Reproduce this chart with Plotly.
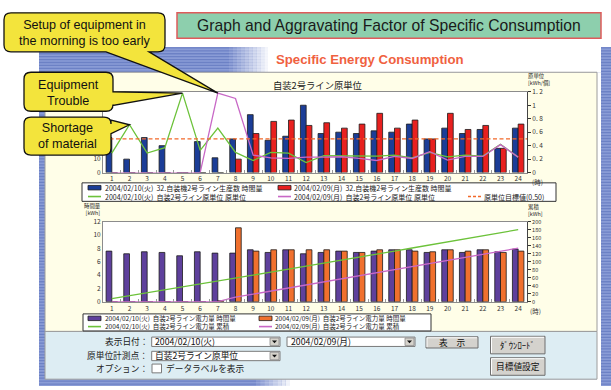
import plotly.graph_objects as go

W, H = 611, 390
JP = "Noto Sans CJK JP"
LAT = "Liberation Sans"

# ---------------- data ----------------
hours = list(range(1, 25))
hour_labels = [str(h) for h in hours]

# 32.自装機2号ライン生産数 時間量 (個)
prod_0210 = [26, 10, 26, 20, 0, 23, 11, 25, 43, 24, 27, 50, 29, 30, 29, 31, 30, 36, 25, 33, 29, 32, 18, 33]
prod_0209 = [0, 0, 0, 0, 0, 0, 0, 10, 29, 38, 39, 35, 37, 33, 36, 44, 33, 39, 25, 44, 32, 35, 18, 36]
prod_range = [0, 60]
prod_ticks = [0, 10]

# 自装2号ライン原単位 (kWh/個)
unit_0210 = [0.29, 0.71, 0.29, 0.37, 1.18, 0.33, 0.66, 0.30, 0.18, 0.30, 0.29, 0.15,
             0.25, 0.25, 0.25, 0.245, 0.26, 0.22, 0.30, 0.235, 0.26, 0.245, 0.42, 0.23]
unit_0209 = [0, 0, 0, 0, 0, 0, 1.18, 1.10, 0.26, 0.22, 0.21, 0.23,
             0.23, 0.235, 0.21, 0.18, 0.24, 0.21, 0.31, 0.185, 0.24, 0.24, 0.415, 0.23]
unit_target = 0.50
unit_ticks = [0, 0.2, 0.4, 0.6, 0.8, 1.0, 1.2]
unit_tick_text = ["0", "0. 2", "0. 4", "0. 6", "0. 8", "1", "1. 2"]

# 自装2号ライン電力量 時間量 (kWh)
energy_0210 = [7.6, 7.2, 7.5, 7.4, 6.9, 7.5, 7.3, 7.3, 7.8, 7.4, 7.8, 7.2,
               7.4, 7.6, 7.4, 7.6, 7.8, 7.8, 7.4, 7.8, 7.4, 7.8, 7.5, 7.9]
energy_0209 = [0, 0, 0, 0, 0, 0, 0.15, 11.1, 7.6, 7.8, 7.8, 7.8,
               7.8, 7.6, 7.4, 7.8, 7.8, 7.6, 7.5, 7.8, 7.6, 7.8, 7.4, 7.6]
energy_ticks = [0, 2, 4, 6, 8, 10, 12]

# 自装2号ライン電力量 累積 (kWh)
cum_0210 = [7.6, 14.8, 22.3, 29.7, 36.6, 44.1, 51.4, 58.7, 66.5, 73.9, 81.7, 88.9,
            96.3, 103.9, 111.3, 118.9, 126.7, 134.5, 141.9, 149.7, 157.1, 164.9, 172.4, 180.3]
cum_0209 = [0, 0, 0, 0, 0, 0, 0.2, 11.3, 18.9, 26.7, 34.5, 42.3,
            50.1, 57.7, 65.1, 72.9, 80.7, 88.3, 95.8, 103.6, 111.2, 119.0, 126.4, 134.0]
cum_ticks = list(range(0, 201, 20))

name_p10 = "2004/02/10(火)  32.自装機2号ライン生産数 時間量"
name_p09 = "2004/02/09(月)  32.自装機2号ライン生産数 時間量"
name_u10 = "2004/02/10(火)  自装2号ライン原単位 原単位"
name_u09 = "2004/02/09(月)  自装2号ライン原単位 原単位"
name_tg = f"原単位目標値({unit_target:.2f})"
name_e10 = "2004/02/10(火)  自装2号ライン電力量 時間量"
name_e09 = "2004/02/09(月)  自装2号ライン電力量 時間量"
name_c10 = "2004/02/10(火)  自装2号ライン電力量 累積"
name_c09 = "2004/02/09(月)  自装2号ライン電力量 累積"

C_BLUE, C_RED = "#1B3D97", "#E8201F"
C_PURPLE, C_ORANGE = "#5E409C", "#F0702E"
C_GREEN, C_PINK = "#6CC23A", "#C868C6"
C_TARGET = "#F2692A"
EDGE = "#1c1c1c"

# plot rectangles in pixels
PX0, PX1 = 103, 527
TOP_Y0, TOP_Y1 = 88, 171
BOT_Y0, BOT_Y1 = 221.5, 303.5
XR = [0.5, 24.5]
TOP_R = [0, 1.2]


def px(x):
    return x / W


def py(y):
    return 1 - y / H


shapes = []
annotations = []


def rect(x0, y0, x1, y1, fill=None, line=None, lw=1.0, layer="below", opacity=1.0):
    shapes.append(dict(type="rect", xref="paper", yref="paper",
                       x0=px(x0), x1=px(x1), y0=py(y1), y1=py(y0),
                       fillcolor=fill or "rgba(0,0,0,0)",
                       line=dict(color=line or "rgba(0,0,0,0)", width=lw if line else 0),
                       layer=layer, opacity=opacity))


def seg(x0, y0, x1, y1, color, lw=1.0, dash=None, layer="below"):
    shapes.append(dict(type="line", xref="paper", yref="paper",
                       x0=px(x0), x1=px(x1), y0=py(y0), y1=py(y1),
                       line=dict(color=color, width=lw, dash=dash), layer=layer))


def text(x, y, s, size, color="#222", family=JP, xanchor="center", yanchor="middle", align="center"):
    annotations.append(dict(xref="paper", yref="paper", x=px(x), y=py(y), text=s,
                            showarrow=False, xanchor=xanchor, yanchor=yanchor, align=align,
                            font=dict(size=size, color=color, family=family), borderpad=0))


def P(x, y):
    return f"{px(x):.5f},{py(y):.5f}"


def callout(x0, y0, x1, y1, side, a, tip, b, r=7):
    d = f"M{P(x0 + r, y0)} L{P(x1 - r, y0)} Q{P(x1, y0)} {P(x1, y0 + r)}"
    if side == "right":
        d += f" L{P(x1, a)} L{P(*tip)} L{P(x1, b)}"
    d += f" L{P(x1, y1 - r)} Q{P(x1, y1)} {P(x1 - r, y1)}"
    if side == "bottom":
        d += f" L{P(a, y1)} L{P(*tip)} L{P(b, y1)}"
    d += f" L{P(x0 + r, y1)} Q{P(x0, y1)} {P(x0, y1 - r)} L{P(x0, y0 + r)} Q{P(x0, y0)} {P(x0 + r, y0)} Z"
    shapes.append(dict(type="path", xref="paper", yref="paper", path=d,
                       fillcolor="#F3E43C", line=dict(color="#111", width=1.3), layer="above"))


def top_point(h, v):
    # pixel position of an hour/原単位 point on the upper chart
    x = PX0 + (h - XR[0]) / (XR[1] - XR[0]) * (PX1 - PX0)
    y = TOP_Y1 - (v - TOP_R[0]) / (TOP_R[1] - TOP_R[0]) * (TOP_Y1 - TOP_Y0)
    return (x, y)


# ---------------- page background ----------------
rect(39, 42, 611, 390, fill="#8A9CD6")
for yy in range(42, 390, 3):
    seg(39, yy + 1, 611, yy + 1, "#6C81C5", lw=1.3)
# white header strip with soft left shadow
rect(268, 42, 601, 68, fill="white")
for i in range(10):
    rect(229 + i * 3.9, 42, 229 + (i + 1) * 3.9, 68, fill="white", opacity=(i + 1) / 11)
rect(597, 68, 601, 390, fill="white")
rect(290, 383, 601, 390, fill="white")
for i in range(8):
    rect(256 + i * 4.25, 383, 256 + (i + 1) * 4.25, 390, fill="white", opacity=(i + 1) / 9)

# window body and control panel
rect(45, 68, 597, 334, fill="#FFFEE8", line="#9C9C9C", lw=1)
rect(45, 334, 597, 383, fill="#DDEDF3", line="#9C9C9C", lw=1)

# page title and window caption
rect(177, 7, 601, 33, fill="#8DCFAD", line="#DE5B5B", lw=1.5)
text(389, 20.5, "Graph and Aggravating Factor of Specific Consumption", 15.7, color="#1a1a1a", family=LAT)
text(369.5, 55, "<b>Specific Energy Consumption</b>", 13.2, color="#F0613F",
     family="Liberation Sans Narrow, Liberation Sans")

# chart titles / axis captions
text(317, 81.5, "自装2号ライン原単位", 9.3, color="#222")
text(527, 75.3, "原単位<br>[kWh/個]", 5.4, color="#222", xanchor="left", align="left")
text(102, 208.5, "時間量<br>[kWh]", 5.4, color="#222", xanchor="right", align="right")
text(527, 209.5, "累積<br>[kWh]", 5.4, color="#222", xanchor="left", align="left")
text(537, 180.8, "(時)", 6.5, color="#333")
text(535, 313, "(時)", 6.5, color="#333")


# ---------------- legends ----------------
def bar_swatch(x, y, color):
    rect(x, y - 2.3, x + 13, y + 2.3, fill=color, line=EDGE, lw=0.8)


def line_swatch(x, y, color, dash=None):
    seg(x, y, x + 13, y, color, lw=1.6, dash=dash)


def legend_column(x, y_mid, first, second, size):
    # two legend rows of one column, set as a single two-line text
    text(x, y_mid, f"{first}<br>{second}", size, xanchor="left", align="left")


LFS = 7.0
rect(82, 181.5, 556, 200.5, fill="white", line="#333", lw=1)
gap = 1.3 * LFS
r_mid = 191.0
r1, r2 = r_mid - gap / 2, r_mid + gap / 2
bar_swatch(88, r1, C_BLUE); line_swatch(88, r2, C_GREEN)
legend_column(104, r_mid, name_p10, name_u10, LFS)
bar_swatch(278, r1, C_RED); line_swatch(278, r2, C_PINK)
legend_column(292.5, r_mid, name_p09, name_u09, LFS)
line_swatch(468, r2, C_TARGET, dash="3px,2px")
text(483, r2, name_tg, LFS, xanchor="left")

LFS2 = 6.5
rect(83, 316, 431, 333.5, fill="white", line="#333", lw=1)
gap2 = 1.3 * LFS2
q_mid = 324.8
q1, q2 = q_mid - gap2 / 2, q_mid + gap2 / 2
bar_swatch(88, q1, C_PURPLE); line_swatch(88, q2, C_GREEN)
legend_column(104, q_mid, name_e10, name_c10, LFS2)
bar_swatch(259, q1, C_ORANGE); line_swatch(259, q2, C_PINK)
legend_column(273.5, q_mid, name_e09, name_c09, LFS2)


# ---------------- control panel ----------------
CFS = 8.7


def sunken(x0, y0, x1, y1):
    rect(x0, y0, x1, y1, fill="white", line="#7A7A7A", lw=1)


def dropdown(x0, y0, x1, y1, label):
    sunken(x0, y0, x1, y1)
    rect(x1 - 10, y0 + 1, x1 - 1, y1 - 1, fill="#D6D3CC", line="#8A8A8A", lw=0.8)
    cx, cy = x1 - 5.5, (y0 + y1) / 2
    shapes.append(dict(type="path", xref="paper", yref="paper",
                       path=f"M{P(cx - 2.5, cy - 1.2)} L{P(cx + 2.5, cy - 1.2)} L{P(cx, cy + 1.6)} Z",
                       fillcolor="#111", line=dict(width=0), layer="below"))
    text(x0 + 2.5, (y0 + y1) / 2, label, CFS, color="#111", xanchor="left")


def button(x0, y0, x1, y1, label):
    rect(x0, y0, x1, y1, fill="#D4D2CD", line="#6F6F6F", lw=1)
    seg(x0 + 1, y0 + 1, x1 - 1, y0 + 1, "white", lw=1)
    seg(x0 + 1, y0 + 1, x0 + 1, y1 - 1, "white", lw=1)
    text((x0 + x1) / 2, (y0 + y1) / 2, label, CFS, color="#111")


text(149, 344.5, "表示日付：", CFS, xanchor="right")
text(149, 359.2, "原単位計測点：", CFS, xanchor="right")
text(149, 372, "オプション：", CFS, xanchor="right")
dropdown(151.7, 339.8, 280, 349.4, "2004/02/10(火)")
dropdown(287, 339.8, 415, 349.4, "2004/02/09(月)")
dropdown(151.7, 354.4, 280, 364, "自装2号ライン原単位")
sunken(152, 367.5, 161.5, 376.5)
text(165, 372, "データラベルを表示", CFS, xanchor="left")
button(426, 339.5, 478, 351, "表　示")
button(490.5, 339, 545, 357, "ﾀﾞｳﾝﾛｰﾄﾞ")
button(490.5, 361, 545, 379, "目標値設定")

# ---------------- plot area backgrounds & target line ----------------
shapes.append(dict(type="rect", xref="x domain", yref="y domain", x0=0, x1=1, y0=0, y1=1,
                   fillcolor="white", line=dict(width=0), layer="below"))
shapes.append(dict(type="rect", xref="x2 domain", yref="y3 domain", x0=0, x1=1, y0=0, y1=1,
                   fillcolor="white", line=dict(width=0), layer="below"))
shapes.append(dict(type="line", xref="x domain", yref="y2", x0=0, x1=1,
                   y0=unit_target, y1=unit_target,
                   line=dict(color=C_TARGET, width=1.3, dash="4px,2.5px"), layer="above"))

# ---------------- callouts ----------------
i5 = hours.index(5)
i7 = hours.index(7)
i2 = hours.index(2)
callout(4, 7, 165, 47, "bottom", 149, top_point(7, unit_0209[i7]), 106)
text(85, 28, "Setup of equipment in<br>the morning is too early", 12.6, color="#111", family=LAT)
callout(24, 68, 113, 108, "right", 88, top_point(5, unit_0210[i5]), 102)
text(68.5, 88.8, "Equipment<br>Trouble", 12.6, color="#111", family=LAT)
callout(24, 114, 111, 153, "right", 117, top_point(2, unit_0210[i2]), 131)
text(67.5, 133.8, "Shortage<br>of material", 12.6, color="#111", family=LAT)

# ---------------- traces ----------------
fig = go.Figure()
bar_line = dict(color=EDGE, width=0.8)
fig.add_trace(go.Bar(x=hours, y=prod_0210, name=name_p10, xaxis="x", yaxis="y",
                     marker=dict(color=C_BLUE, line=bar_line)))
fig.add_trace(go.Bar(x=hours, y=prod_0209, name=name_p09, xaxis="x", yaxis="y",
                     marker=dict(color=C_RED, line=bar_line)))
fig.add_trace(go.Scatter(x=hours, y=unit_0210, name=name_u10, xaxis="x", yaxis="y2", mode="lines",
                         line=dict(color=C_GREEN, width=1.3), cliponaxis=False))
fig.add_trace(go.Scatter(x=hours, y=unit_0209, name=name_u09, xaxis="x", yaxis="y2", mode="lines",
                         line=dict(color=C_PINK, width=1.3), cliponaxis=False))
fig.add_trace(go.Bar(x=hours, y=energy_0210, name=name_e10, xaxis="x2", yaxis="y3",
                     marker=dict(color=C_PURPLE, line=bar_line)))
fig.add_trace(go.Bar(x=hours, y=energy_0209, name=name_e09, xaxis="x2", yaxis="y3",
                     marker=dict(color=C_ORANGE, line=bar_line)))
fig.add_trace(go.Scatter(x=hours, y=cum_0210, name=name_c10, xaxis="x2", yaxis="y4", mode="lines",
                         line=dict(color=C_GREEN, width=1.3), cliponaxis=False))
fig.add_trace(go.Scatter(x=hours, y=cum_0209, name=name_c09, xaxis="x2", yaxis="y4", mode="lines",
                         line=dict(color=C_PINK, width=1.3), cliponaxis=False))

TF = dict(size=6.5, color="#333", family=JP)
TF_SMALL = dict(size=5.5, color="#333", family=JP)
xdom = [PX0 / W, PX1 / W]
half_ticks = [h + 0.5 for h in hours[:-1]]


def xaxis_cfg(anchor):
    return dict(domain=xdom, anchor=anchor, range=XR, tickmode="array", tickvals=hours,
                ticktext=hour_labels, ticks="", tickfont=TF, showline=True, linecolor="#8c8c8c",
                linewidth=1, mirror=True, showgrid=False, zeroline=False, fixedrange=True,
                minor=dict(tickmode="array", tickvals=half_ticks, ticks="inside", ticklen=3,
                           tickcolor="#9a9a9a", showgrid=False))


def yleft_cfg(dom, rng, vals, anchor):
    return dict(domain=dom, anchor=anchor, range=rng, tickmode="array", tickvals=vals,
                ticks="", tickfont=TF, showline=True, linecolor="#8c8c8c", linewidth=1,
                showgrid=False, zeroline=False, fixedrange=True)


def yright_cfg(over, anchor, rng, vals, txt=None, font=TF):
    d = dict(overlaying=over, anchor=anchor, side="right", range=rng, tickmode="array",
             tickvals=vals, ticks="outside", ticklen=3, tickwidth=1, tickcolor="#333",
             tickfont=font, showline=True, linecolor="#444", linewidth=1,
             showgrid=False, zeroline=False, fixedrange=True)
    if txt is not None:
        d["ticktext"] = txt
    return d


fig.update_layout(
    width=W, height=H, margin=dict(l=0, r=0, t=0, b=0),
    paper_bgcolor="white", plot_bgcolor="white",
    font=dict(family=JP), showlegend=False,
    barmode="group", bargap=0.35, bargroupgap=0,
    xaxis=xaxis_cfg("y"),
    yaxis=yleft_cfg([1 - TOP_Y1 / H, 1 - TOP_Y0 / H], prod_range, prod_ticks, "x"),
    yaxis2=yright_cfg("y", "x", TOP_R, unit_ticks, unit_tick_text),
    xaxis2=xaxis_cfg("y3"),
    yaxis3=yleft_cfg([1 - BOT_Y1 / H, 1 - BOT_Y0 / H], [0, 12], energy_ticks, "x2"),
    yaxis4=yright_cfg("y3", "x2", [0, 200], cum_ticks, font=TF_SMALL),
    shapes=shapes, annotations=annotations,
)

fig.write_html("out.html")
